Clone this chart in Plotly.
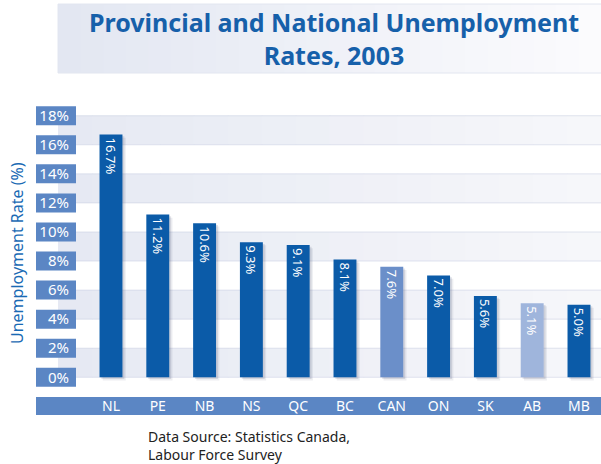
import plotly.graph_objects as go

# Unemployment rates by province, 2003 (percent)
regions = ["NL", "PE", "NB", "NS", "QC", "BC", "CAN", "ON", "SK", "AB", "MB"]
rates = [16.7, 11.2, 10.6, 9.3, 9.1, 8.1, 7.6, 7.0, 5.6, 5.1, 5.0]
bar_colors = ["#0b5ba8"] * 6 + ["#6b8fc9"] + ["#0b5ba8"] * 2 + ["#9fb5dc", "#0b5ba8"]
y_ticks = [0, 2, 4, 6, 8, 10, 12, 14, 16, 18]
y_tick_text = [f"{v}%" for v in y_ticks]

FIG_W, FIG_H = 601, 464
ML, MR, MT, MB = 80, 0, 107, 78
PLOT_W = FIG_W - ML - MR
PLOT_H = FIG_H - MT - MB
Y_RANGE = [-0.6, 18.6]
X_RANGE = [-0.662, -0.662 + PLOT_W / 46.8]

BOX_BLUE = "#5b86c4"
FONT = "Noto Sans"


def px_x(px):
    return (px - ML) / PLOT_W


def px_y(py):
    return (FIG_H - MB - py) / PLOT_H


def val_y(v):
    return (v - Y_RANGE[0]) / (Y_RANGE[1] - Y_RANGE[0])


def blend(c1, c2, t):
    a = [int(c1[i:i + 2], 16) for i in (1, 3, 5)]
    b = [int(c2[i:i + 2], 16) for i in (1, 3, 5)]
    return "#" + "".join(f"{round(a[k] + (b[k] - a[k]) * t):02x}" for k in range(3))


shapes = []


def gradient_rect(x0, x1, y0, y1, c_left, c_right, steps=24):
    w = (x1 - x0) / steps
    for i in range(steps):
        shapes.append(dict(type="rect", xref="paper", yref="paper",
                           x0=x0 + i * w, x1=x0 + (i + 1) * w + 0.002, y0=y0, y1=y1,
                           fillcolor=blend(c_left, c_right, i / (steps - 1)),
                           line=dict(width=0), layer="below"))


# title panel
gradient_rect(px_x(58), px_x(601), px_y(73), px_y(4), "#e3e7f2", "#fbfbfd")
shapes.append(dict(type="rect", xref="paper", yref="paper",
                   x0=px_x(58), x1=px_x(603), y0=px_y(73), y1=px_y(4),
                   line=dict(color="#e2e6f0", width=1), fillcolor="rgba(0,0,0,0)", layer="below"))

# alternating stripes behind the bars
for lo in range(0, 18, 4):
    gradient_rect(px_x(58), px_x(601), val_y(lo), val_y(lo + 2), "#e6e9f3", "#f6f7fa", steps=16)
    for edge in (lo, lo + 2):
        shapes.append(dict(type="line", xref="paper", yref="paper",
                           x0=px_x(58), x1=px_x(601), y0=val_y(edge), y1=val_y(edge),
                           line=dict(color="rgba(200,206,225,0.55)", width=1), layer="below"))

# tick label boxes
for v in y_ticks:
    shapes.append(dict(type="rect", xref="paper", yref="paper",
                       x0=px_x(36), x1=px_x(76),
                       y0=val_y(v) - 9.5 / PLOT_H, y1=val_y(v) + 9.5 / PLOT_H,
                       fillcolor=BOX_BLUE, line=dict(width=0), layer="below"))

# category band under the axis
shapes.append(dict(type="rect", xref="paper", yref="paper",
                   x0=px_x(36), x1=px_x(602), y0=px_y(415), y1=px_y(397),
                   fillcolor=BOX_BLUE, line=dict(width=0), layer="below"))

fig = go.Figure()

# soft drop shadow under each bar
for dx, dy, alpha in [(0.07, 0.22, 0.10), (0.04, 0.12, 0.16)]:
    fig.add_trace(go.Bar(
        x=regions, y=rates, base=-dy, width=0.49, offset=-0.245 + dx,
        marker=dict(color=f"rgba(80,90,120,{alpha})", line=dict(width=0)),
        hoverinfo="skip", showlegend=False,
    ))

fig.add_trace(go.Bar(
    x=regions, y=rates, width=0.49, offset=-0.245,
    marker=dict(color=bar_colors, line=dict(width=0)),
    texttemplate="%{y:.1f}%", textposition="inside", insidetextanchor="end",
    textangle=90, constraintext="none",
    textfont=dict(family=FONT, size=13, color="white"),
    hoverinfo="skip", showlegend=False,
))

fig.update_layout(
    width=FIG_W, height=FIG_H,
    margin=dict(l=ML, r=MR, t=MT, b=MB, pad=0),
    paper_bgcolor="white", plot_bgcolor="rgba(0,0,0,0)",
    barmode="overlay",
    shapes=shapes,
    title=dict(text="<b>Provincial and National Unemployment<br>Rates, 2003</b>",
               xref="container", yref="container", x=334 / FIG_W, y=1 - 32 / FIG_H,
               xanchor="center", yanchor="middle",
               font=dict(family=FONT, size=25, color="#1660aa")),
    xaxis=dict(range=X_RANGE, showgrid=False, zeroline=False, showline=False,
               ticks="", ticklabelstandoff=10,
               tickfont=dict(family=FONT, size=14, color="white"), fixedrange=True),
    yaxis=dict(range=Y_RANGE, tickvals=y_ticks, ticktext=y_tick_text,
               showgrid=False, zeroline=False, showline=False,
               ticks="", ticklabelstandoff=10,
               tickfont=dict(family=FONT, size=15, color="white"), fixedrange=True),
    annotations=[
        dict(text="Unemployment Rate (%)", xref="paper", yref="paper",
             x=px_x(17), y=px_y(253), textangle=-90, showarrow=False,
             xanchor="center", yanchor="middle",
             font=dict(family=FONT, size=16, color="#1a6ab4")),
        dict(text="Data Source: Statistics Canada,<br>Labour Force Survey",
             xref="paper", yref="paper", x=px_x(146), y=px_y(445),
             xanchor="left", yanchor="middle", align="left", showarrow=False,
             font=dict(family=FONT, size=14, color="#222222")),
    ],
)

fig.write_html("out.html")
